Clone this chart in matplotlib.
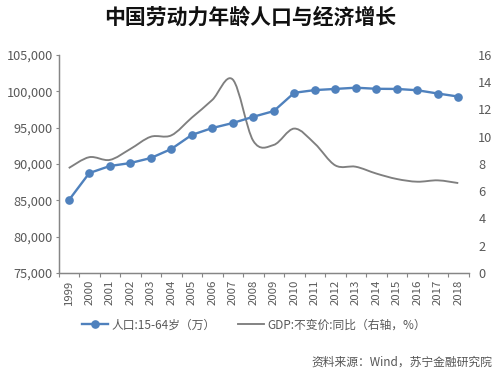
import matplotlib
matplotlib.use('Agg')
import matplotlib.pyplot as plt
import numpy as np
from matplotlib.path import Path
from matplotlib.patches import PathPatch
from matplotlib.lines import Line2D

plt.rcParams['font.family'] = ['Noto Sans CJK SC', 'DejaVu Sans']

years = list(range(1999, 2019))
population = [85000, 88750, 89720, 90130, 90820, 92060, 94000, 94950, 95640, 96500,
              97280, 99800, 100170, 100330, 100500, 100350, 100330, 100150, 99700, 99280]
gdp = [7.7, 8.5, 8.3, 9.1, 10.0, 10.1, 11.4, 12.7, 14.2, 9.7,
       9.4, 10.6, 9.5, 7.9, 7.8, 7.3, 6.9, 6.7, 6.8, 6.6]
left_ticks = [75000, 80000, 85000, 90000, 95000, 100000, 105000]
right_ticks = [0, 2, 4, 6, 8, 10, 12, 14, 16]
pop_label = '人口:15-64岁（万）'
gdp_label = 'GDP:不变价:同比（右轴，%）'
title = '中国劳动力年龄人口与经济增长'
source = '资料来源：Wind，苏宁金融研究院'

BLUE = '#4F81BD'
GRAY = '#7F7F7F'
AX = '#868686'
TXT = '#595959'
W, H = 500, 372

fig = plt.figure(figsize=(W/100, H/100), dpi=100)
ax = fig.add_axes([58.5/W, 1-273/H, 410/W, 218/H])
ax2 = ax.twinx()
x = np.arange(len(years))


def smooth_path(xs, ys, k=1/6):
    # Spreadsheet-style smooth line: Catmull-Rom through the data, as Bezier segments
    n = len(xs)
    verts = [(xs[0], ys[0])]
    codes = [Path.MOVETO]
    for i in range(n-1):
        p0 = max(i-1, 0); p3 = min(i+2, n-1)
        verts.append((xs[i]+(xs[i+1]-xs[p0])*k, ys[i]+(ys[i+1]-ys[p0])*k))
        verts.append((xs[i+1]-(xs[p3]-xs[i])*k, ys[i+1]-(ys[p3]-ys[i])*k))
        verts.append((xs[i+1], ys[i+1]))
        codes += [Path.CURVE4]*3
    return Path(verts, codes)


ax2.add_patch(PathPatch(smooth_path(x, gdp), fc='none', ec=GRAY, lw=1.35, zorder=2))
ax.plot(x, population, color=BLUE, lw=1.7, marker='o', ms=5.2, mfc=BLUE, mec=BLUE, zorder=3)
ax.set_zorder(ax2.get_zorder()+1)
ax.patch.set_visible(False)

ax.set_xlim(-0.5, len(years)-0.5)
ax.set_ylim(75000, 105000)
ax2.set_ylim(0, 16)
ax.set_yticks(left_ticks)
ax.set_yticklabels([f'{v:,}' for v in left_ticks])
ax2.set_yticks(right_ticks)
ax.set_xticks(x)
ax.set_xticklabels([str(y) for y in years], rotation=90)
ax.set_xticks(np.arange(-0.5, len(years)), minor=True)
ax.tick_params(axis='x', which='major', length=0, pad=5, labelsize=8.2, labelcolor=TXT)
ax.tick_params(axis='x', which='minor', length=3, width=0.8, color=AX, direction='out')
ax.tick_params(axis='y', length=2.5, width=0.8, color=AX, labelsize=9.2, labelcolor=TXT, pad=1.5)
ax2.tick_params(axis='y', length=0, labelsize=9.2, labelcolor=TXT, pad=7)
for a in (ax, ax2):
    a.spines['top'].set_visible(False)
    for s in ('left', 'right', 'bottom'):
        a.spines[s].set_color(AX)
        a.spines[s].set_linewidth(0.9)
ax2.spines['right'].set_visible(False)
ax.spines['right'].set_visible(False)

fig.text(250/W, 1-17/H, title, ha='center', va='center', fontsize=15, fontweight='bold', color='#111111')

h1 = Line2D([], [], color=BLUE, lw=1.7, marker='o', ms=5.2)
h2 = Line2D([], [], color=GRAY, lw=1.35)
fig.legend([h1, h2], [pop_label, gdp_label], loc='center', bbox_to_anchor=(254/W, 1-325/H),
           ncol=2, frameon=False, fontsize=8.5, labelcolor=TXT, handlelength=2.2, columnspacing=1.9, handletextpad=0.3)

fig.text(492/W, 1-362/H, source, ha='right', va='center', fontsize=8.5, style='italic', color='#555555')
fig.savefig('out.png', dpi=100)
